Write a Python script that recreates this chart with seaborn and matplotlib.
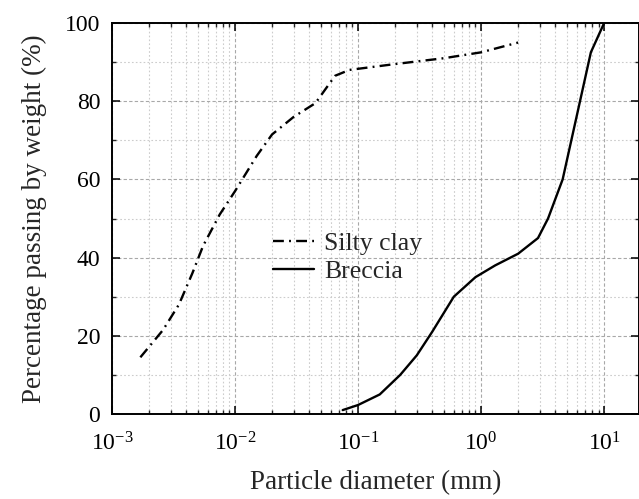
import matplotlib
matplotlib.use("Agg")
import matplotlib.pyplot as plt
import matplotlib.ticker as mticker
import numpy as np
import pandas as pd
import seaborn as sns

# Grain-size distribution data (particle diameter in mm, percent passing)
silty_clay_d = [0.0017, 0.0026, 0.0035, 0.0045, 0.0055, 0.0075, 0.01, 0.015,
                0.02, 0.03, 0.045, 0.065, 0.085, 0.2, 0.5, 1.0, 2.0]
silty_clay_p = [14.5, 21.5, 28, 36, 43, 51, 57, 66,
                71.5, 76, 79.5, 86.5, 88, 89.5, 91, 92.5, 95]

breccia_d = [0.075, 0.1, 0.15, 0.22, 0.3, 0.4, 0.6, 0.9, 1.3, 2.0,
             2.9, 3.5, 4.6, 7.8, 10.0]
breccia_p = [1, 2.3, 5, 10, 15, 21, 30, 35, 38, 41,
             45, 50, 60, 92.5, 100]

y_ticks = [0, 20, 40, 60, 80, 100]

sns.set_theme(style="white")
plt.rcParams["font.family"] = ["Liberation Serif", "DejaVu Serif"]
plt.rcParams["mathtext.fontset"] = "custom"
plt.rcParams["mathtext.rm"] = "Liberation Serif"
plt.rcParams["mathtext.it"] = "Liberation Serif:italic"
plt.rcParams["mathtext.default"] = "regular"

fig = plt.figure(figsize=(6.39, 4.99), dpi=100)
ax = fig.add_axes([112 / 639, 1 - 414 / 499, 1 - 112 / 639, (414 - 23) / 499])

df_sc = pd.DataFrame({"d": silty_clay_d, "p": silty_clay_p})
df_br = pd.DataFrame({"d": breccia_d, "p": breccia_p})

sns.lineplot(data=df_sc, x="d", y="p", ax=ax, color="black", lw=1.7,
             estimator=None, sort=False, label="Silty clay")
sns.lineplot(data=df_br, x="d", y="p", ax=ax, color="black", lw=1.7,
             estimator=None, sort=False, label="Breccia")
ax.lines[0].set_dashes([4.6, 2.2, 0.8, 2.2])

ax.set_xscale("log")
ax.set_xlim(1e-3, 19.2)
ax.set_ylim(0, 100)
ax.set_yticks(y_ticks)
ax.yaxis.set_minor_locator(mticker.MultipleLocator(10))
ax.xaxis.set_major_locator(mticker.LogLocator(base=10, numticks=10))
ax.xaxis.set_minor_locator(mticker.LogLocator(base=10, subs=np.arange(2, 10), numticks=20))
ax.xaxis.set_minor_formatter(mticker.NullFormatter())

ax.grid(True, which="major", color="#a8a8a8", linestyle=(0, (3, 2)), lw=0.8)
ax.grid(True, which="minor", color="#cccccc", linestyle=(0, (1.5, 2)), lw=0.8)
ax.set_axisbelow(True)

for s in ax.spines.values():
    s.set_color("black")
    s.set_linewidth(1.4)

ax.tick_params(which="major", direction="in", length=5.8, width=1.1,
               top=True, right=True, bottom=True, left=True,
               labelsize=17, colors="black")
ax.tick_params(which="minor", direction="in", length=3.2, width=1.0,
               top=True, right=True, bottom=True, left=True)
ax.tick_params(axis="y", which="major", pad=8.5)
ax.tick_params(axis="x", which="major", pad=13)

ax.set_xlabel("Particle diameter (mm)", fontsize=19.5, labelpad=11)
ax.set_ylabel("Percentage passing by weight (%)", fontsize=19.5, labelpad=13)

leg = ax.legend(loc="center left", bbox_to_anchor=(0.305, 0.40), frameon=False,
                fontsize=18.5, handlelength=1.6, handletextpad=0.4,
                labelspacing=0.2, borderpad=0, borderaxespad=0)
for h in leg.get_lines():
    h.set_color("black")
    h.set_linewidth(1.7)

fig.savefig("out.png", dpi=100)
